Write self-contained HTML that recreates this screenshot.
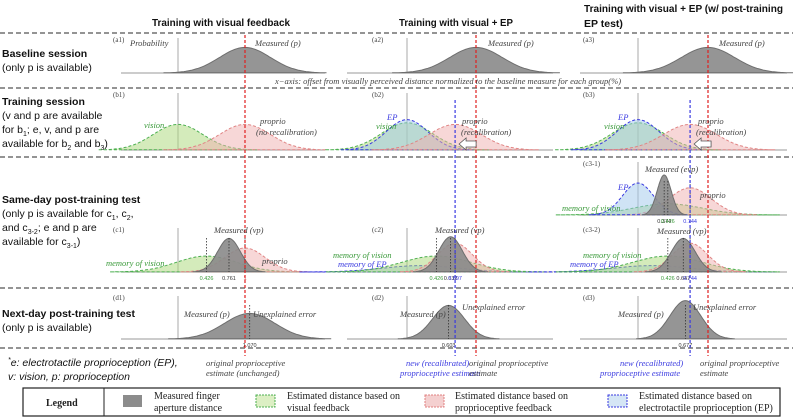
<!DOCTYPE html>
<html><head><meta charset="utf-8"><style>
body{margin:0;background:#fff;width:793px;height:417px;overflow:hidden}
svg{display:block}
.t{font-family:"Liberation Sans",sans-serif;fill:#111}
.s{font-family:"Liberation Serif",serif;font-style:italic;fill:#444;font-size:8.5px}
</style></head><body>
<svg id="fig" width="793" height="417" viewBox="0 0 793 417">
<g font-size="10.5">
<text x="152" y="26" textLength="138" lengthAdjust="spacingAndGlyphs" class="t" font-weight="bold">Training with visual feedback</text>
<text x="399" y="26" textLength="114" lengthAdjust="spacingAndGlyphs" class="t" font-weight="bold">Training with visual + EP</text>
<text x="584" y="12" textLength="199" lengthAdjust="spacingAndGlyphs" class="t" font-weight="bold">Training with visual + EP (w/ post-training</text>
<text x="584" y="27" class="t" font-weight="bold">EP test)</text>
</g>
<g id="seps" stroke="#555" stroke-width="1.2" stroke-dasharray="5,3">
<line x1="0" x2="793" y1="33" y2="33"/><line x1="0" x2="793" y1="88" y2="88"/>
<line x1="0" x2="793" y1="157" y2="157"/><line x1="0" x2="793" y1="288" y2="288"/>
<line x1="0" x2="793" y1="348" y2="348"/>
</g>
<g font-size="10.5">
<text x="2" y="57" class="t" font-weight="bold">Baseline session</text>
<text x="2" y="71" class="t">(only p is available)</text>
<text x="2" y="105" class="t" font-weight="bold">Training session</text>
<text x="2" y="119" class="t">(v and p are available</text>
<text x="2" y="133" class="t">for b<tspan font-size="7" dy="3">1</tspan><tspan dy="-3">; e, v, and p are</tspan></text>
<text x="2" y="147" class="t">available for b<tspan font-size="7" dy="3">2</tspan><tspan dy="-3"> and b</tspan><tspan font-size="7" dy="3">3</tspan><tspan dy="-3">)</tspan></text>
<text x="2" y="203" class="t" font-weight="bold">Same-day post-training test</text>
<text x="2" y="217" class="t">(only p is available for c<tspan font-size="7" dy="3">1</tspan><tspan dy="-3">, c</tspan><tspan font-size="7" dy="3">2</tspan><tspan dy="-3">,</tspan></text>
<text x="2" y="231" class="t">and c<tspan font-size="7" dy="3">3-2</tspan><tspan dy="-3">; e and p are</tspan></text>
<text x="2" y="245" class="t">available for c<tspan font-size="7" dy="3">3-1</tspan><tspan dy="-3">)</tspan></text>
<text x="2" y="317" class="t" font-weight="bold">Next-day post-training test</text>
<text x="2" y="331" class="t">(only p is available)</text>
<text x="8" y="366" class="t" font-style="italic" font-size="10.5"><tspan font-size="7" dy="-4">*</tspan><tspan dy="4">e: electrotactile proprioception (EP),</tspan></text>
<text x="8" y="380" class="t" font-style="italic" font-size="10.5">v: vision, p: proprioception</text>
</g>
<g id="panels"></g>
<g id="overlay"></g>
<g font-family="Liberation Serif, serif" font-size="10" fill="#222">
<rect x="23" y="388" width="757" height="28" fill="none" stroke="#222" stroke-width="1.2"/>
<line x1="104" x2="104" y1="388" y2="416" stroke="#222"/>
<text x="46" y="406" font-weight="bold">Legend</text>
<rect x="123" y="395" width="19" height="12" fill="#8c8c8c"/>
<text x="154" y="399">Measured finger</text><text x="154" y="411">aperture distance</text>
<rect x="256" y="395" width="19" height="12" fill="#dcefc4" stroke="#4caf50" stroke-dasharray="2,1"/>
<text x="287" y="399">Estimated distance based on</text><text x="287" y="411">visual feedback</text>
<rect x="425" y="395" width="19" height="12" fill="#f4d0d0" stroke="#e08080" stroke-dasharray="2,1"/>
<text x="455" y="399">Estimated distance based on</text><text x="455" y="411">proprioceptive feedback</text>
<rect x="608" y="395" width="19" height="12" fill="#d5e6f5" stroke="#3a3ae0" stroke-dasharray="2,1"/>
<text x="639" y="399">Estimated distance based on</text><text x="639" y="411">electrotactile proprioception (EP)</text>
</g>
</svg>
<script>
// data
const panelIds=["a1","a2","a3","b1","b2","b3","c1","c2","c3-1","c3-2","d1","d2","d3"];
const curvePanel=["a1","a2","a3","b1","b1","b2","b2","b2","b3","b3","b3","c1","c1","c1","c2","c2","c2","c2","c3-1","c3-1","c3-1","c3-1","c3-2","c3-2","c3-2","c3-2","d1","d2","d3"];
const curveKind=["p","p","p","v","r","v","e","r","v","e","r","v","r","p","e","v","r","p","v","r","e","p","e","v","r","p","p","p","p"];
const curveMean=[1,1,1,0,1,0,0,0.697,0,0,0.744,0.426,1,0.761,0.2,0.426,0.697,0.632,0.426,0.744,0,0.374,0.2,0.426,0.744,0.647,1.07,0.603,0.677];
const curveSd=[0.38,0.38,0.38,0.37,0.38,0.37,0.3,0.38,0.37,0.3,0.38,0.45,0.3,0.17,0.55,0.5,0.25,0.17,0.5,0.3,0.22,0.1,0.55,0.5,0.25,0.17,0.38,0.23,0.22];
const curveProb=[0.8,0.8,0.8,0.8,0.8,0.85,0.95,0.8,0.85,0.95,0.8,0.5,0.75,1.05,0.2,0.5,0.9,1.1,0.35,0.85,1.0,1.25,0.2,0.5,0.9,1.05,0.8,1.05,1.2];
const markValues=[[ "c1",0.426,"0.426"],["c1",0.761,"0.761"],["c1",1,"1"],["c2",0.426,"0.426"],["c2",0.632,"0.632"],["c2",0.697,"0.697"],["c3-1",0.374,"0.374"],["c3-1",0.426,"0.426"],["c3-1",0.744,"0.744"],["c3-2",0.426,"0.426"],["c3-2",0.647,"0.647"],["c3-2",0.744,"0.744"],["d1",1.07,"1.070"],["d2",0.603,"0.603"],["d3",0.677,"0.677"]];
const recalValues=[0.697,0.744];
// layout
const colX0=[178,407,638],colU=[67,69,70],colL=[121,347,580],colR=[325,553,787],labX=[113,372,583];
const rowBase={a:73,b:150,c:272,d:339},rowTop={a:38,b:93,c:228,d:296};
const NS="http://www.w3.org/2000/svg";
function el(tag,at,parent){const e=document.createElementNS(NS,tag);for(const k in at)e.setAttribute(k,at[k]);parent.appendChild(e);return e;}
function geom(id){const col=+id[1]-1;let base=rowBase[id[0]],top=rowTop[id[0]];if(id==="c3-1"){base=215;top=162;}return {col,base,top,x:v=>colX0[col]+v*colU[col],y:p=>base-p*32};}
const styles={p:{fill:"#8a8a8a",stroke:"#6e6e6e",dash:"none",op:0.9},v:{fill:"rgba(170,215,120,0.5)",stroke:"#4caf50",dash:"3,2",op:1},r:{fill:"rgba(240,175,175,0.5)",stroke:"#e08585",dash:"3,2",op:1},e:{fill:"rgba(160,200,235,0.5)",stroke:"#3a3ae0",dash:"3,2",op:1}};
const P=document.getElementById("panels"),O=document.getElementById("overlay");
panelIds.forEach(id=>{const g=geom(id);const grp=el("g",{},P);


const ax=el("line",{x1:colL[g.col],x2:colR[g.col],y1:g.base,y2:g.base,stroke:"#999","stroke-width":1},grp);


const ay=el("line",{x1:colX0[g.col],x2:colX0[g.col],y1:g.top,y2:g.base,stroke:"#aaa","stroke-width":1},grp);


const lab=el("text",{x:labX[g.col],y:g.top+4,"font-size":"7","font-family":"Liberation Serif, serif",fill:"#444"},grp);
lab.textContent="("+id+")";


});
curvePanel.forEach((id,i)=>{const g=geom(id),st=styles[curveKind[i]],m=curveMean[i],sd=curveSd[i],h=curveProb[i];
let d="";const lo=m-3.2*sd,hi=m+3.2*sd;
for(let k=0;k<=80;k++){const v=lo+(hi-lo)*k/80;const p=h*Math.exp(-0.5*((v-m)/sd)**2);d+=(k?"L":"M")+g.x(v).toFixed(1)+","+g.y(p).toFixed(1);}
const path=el("path",{d:d+"Z",fill:st.fill,stroke:st.stroke,"stroke-width":1,"stroke-dasharray":st.dash,"fill-opacity":st.op},P);


});
markValues.forEach(([id,v,t])=>{const g=geom(id);
const ln=el("line",{x1:g.x(v),x2:g.x(v),y1:g.base-34,y2:g.base,stroke:"#333","stroke-width":0.8,"stroke-dasharray":"1.5,1.5"},O);


const tx=el("text",{x:g.x(v),y:g.base+8,"text-anchor":"middle","font-size":"5.5","font-family":"Liberation Sans, sans-serif",fill:t==="0.426"?"#3a9a3a":(t==="0.697"||t==="0.744"?"#3a3ae0":(t==="1"?"#e03030":"#333"))},O);
tx.textContent=t;


});
[0,1,2].forEach(c=>{const x=colX0[c]+colU[c];const l=el("line",{x1:x,x2:x,y1:35,y2:356,stroke:"#e02020","stroke-width":1.2,"stroke-dasharray":"3,2"},O);

});
recalValues.forEach((v,i)=>{const c=i+1;const x=colX0[c]+v*colU[c];const l=el("line",{x1:x,x2:x,y1:100,y2:356,stroke:"#3a3ae0","stroke-width":1.2,"stroke-dasharray":"3,2"},O);


const ar=el("path",{d:`M${x+4},144 l7,-6 v3 h10 v6 h-10 v3 z`,fill:"#fff",stroke:"#555","stroke-width":0.8},O);

});
const ann=[[130,46,"Probability","#444"],[255,46,"Measured (p)","#444"],[488,46,"Measured (p)","#444"],[719,46,"Measured (p)","#444"],
[275,84,"x−axis: offset from visually perceived distance normalized to the baseline measure for each group(%)","#444"],
[144,128,"vision","#3a9a3a"],[260,124,"proprio","#444"],[256,135,"(no recalibration)","#444"],
[387,120,"EP","#3a3ae0"],[376,129,"vision","#3a9a3a"],[462,124,"proprio","#444"],[461,135,"(recalibration)","#444"],
[618,120,"EP","#3a3ae0"],[604,129,"vision","#3a9a3a"],[698,124,"proprio","#444"],[696,135,"(recalibration)","#444"],
[214,233,"Measured (vp)","#444"],[106,266,"memory of vision","#3a9a3a"],[262,264,"proprio","#444"],
[435,233,"Measured (vp)","#444"],[333,258,"memory of vision","#3a9a3a"],[338,267,"memory of EP","#3a3ae0"],
[645,172,"Measured (evp)","#444"],[618,190,"EP","#3a3ae0"],[700,198,"proprio","#444"],[562,211,"memory of vision","#3a9a3a"],
[657,234,"Measured (vp)","#444"],[583,258,"memory of vision","#3a9a3a"],[570,267,"memory of EP","#3a3ae0"],
[184,317,"Measured (p)","#444"],[253,317,"Unexplained error","#444"],
[400,317,"Measured (p)","#444"],[462,310,"Unexplained error","#444"],[618,317,"Measured (p)","#444"],[693,310,"Unexplained error","#444"],
[206,366,"original proprioceptive","#444"],[206,376,"estimate (unchanged)","#444"],
[406,366,"new (recalibrated)","#3a3ae0"],[400,376,"proprioceptive estimate","#3a3ae0"],[469,366,"original proprioceptive","#444"],[469,376,"estimate","#444"],
[620,366,"new (recalibrated)","#3a3ae0"],[600,376,"proprioceptive estimate","#3a3ae0"],[700,366,"original proprioceptive","#444"],[700,376,"estimate","#444"]];
ann.forEach(([x,y,t,c])=>{const e=el("text",{x,y,class:"s",fill:c},O);e.style.fill=c;e.textContent=t;

});
</script>
</body></html>
